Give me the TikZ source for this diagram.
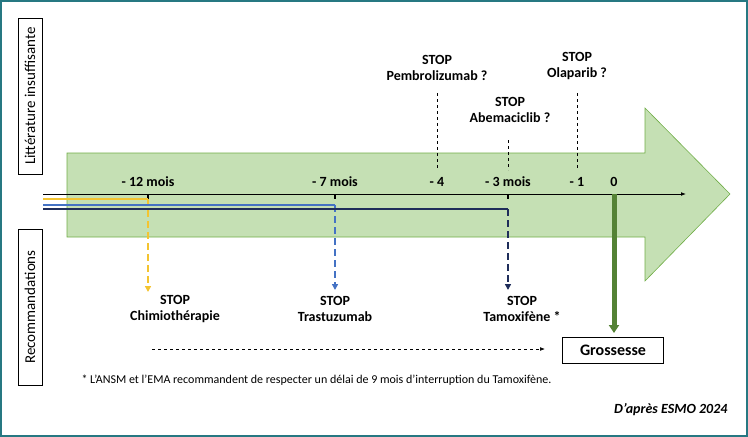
\documentclass[tikz,border=0pt]{standalone}
\usepackage{fontspec}
\setmainfont{Carlito}
\usetikzlibrary{arrows.meta}

\definecolor{frameteal}{RGB}{38,120,130}
\definecolor{arrowgreen}{RGB}{197,224,180}
\definecolor{arrowedge}{RGB}{112,173,71}
\definecolor{darkgreen}{RGB}{84,130,53}
\definecolor{chimioyellow}{RGB}{244,196,48}
\definecolor{trastblue}{RGB}{68,114,196}
\definecolor{tamonavy}{RGB}{31,45,90}

\tikzset{
  stop/.style={font=\bfseries\fontsize{14}{16}\selectfont, align=center},
  tick/.style={font=\bfseries\fontsize{14}{16}\selectfont},
  sidebox/.style={draw, line width=.8pt, minimum width=156pt, minimum height=24pt,
    rotate=90, font=\fontsize{15}{16}\selectfont},
}

\begin{document}
\begin{tikzpicture}[x=1pt,y=-1pt]
  \useasboundingbox (0,0) rectangle (748,437);
  \draw[frameteal, line width=2pt] (1,1) rectangle (747,436);

  % side boxes
  \node[sidebox] (litt) at (30,96) {Littérature insuffisante};
  \node[sidebox] (reco) at (30,307) {Recommandations};

  % big arrow
  \draw[arrowedge, fill=arrowgreen, line width=.6pt]
    (67,153) -- (645,153) -- (645,108) -- (730,194) -- (645,281) -- (645,237)
    -- (67,237) -- cycle;

  % timeline
  \coordinate (t0) at (43,194);
  \coordinate (tend) at (686,194);
  \coordinate (m12) at (148,194);
  \coordinate (m7) at (335,194);
  \coordinate (m3) at (508,194);
  \coordinate (zero) at (614,194);
  \draw[-{Latex[length=5pt]}, line width=.8pt] (t0) -- (tend);
  \foreach \p in {m12,m7,m3}
    \draw[line width=1.5pt] (\p) -- ++(0,5);

  \node[tick] (l12) at (148,182) {- 12 mois};
  \node[tick] (l7) at (335,182) {- 7 mois};
  \node[tick] (l4) at (437,182) {- 4};
  \node[tick] (l3) at (508,182) {- 3 mois};
  \node[tick] (l1) at (577,182) {- 1};
  \node[tick] (l0) at (614,182) {0};

  % treatment lines
  \draw[chimioyellow, line width=1.5pt] (43,199) -- (148,199);
  \draw[chimioyellow, line width=1.8pt, dash pattern=on 7pt off 4pt, -{Triangle[length=6pt,width=6pt]}]
    (148,199) -- (148,292);
  \draw[trastblue, line width=1.5pt] (43,205) -- (335,205);
  \draw[trastblue, line width=1.8pt, dash pattern=on 7pt off 4pt, -{Triangle[length=6pt,width=6pt]}]
    (335,205) -- (335,290);
  \draw[tamonavy, line width=1.5pt] (43,209) -- (508,209);
  \draw[tamonavy, line width=1.8pt, dash pattern=on 7pt off 4pt, -{Triangle[length=6pt,width=6pt]}]
    (508,209) -- (508,290);
  \draw[darkgreen, line width=5pt, -{Triangle[length=8pt,width=10pt]}] (zero) -- (614,333);

  % top STOP labels
  \node[stop] (pembro) at (437,68) {STOP\\Pembrolizumab ?};
  \node[stop] (abema) at (510,110) {STOP\\Abemaciclib ?};
  \node[stop] (olap) at (577,66) {STOP\\Olaparib ?};
  \draw[dashed, line width=.6pt] (437,93) -- (437,170);
  \draw[dashed, line width=.6pt] (508,140) -- (508,170);
  \draw[dashed, line width=.6pt] (577,93) -- (577,170);

  % bottom STOP labels
  \node[stop] (chimio) at (175,309) {STOP\\Chimiothérapie};
  \node[stop] (trast) at (335,309) {STOP\\Trastuzumab};
  \node[stop] (tamo) at (522,309) {STOP\\Tamoxifène *};

  % pregnancy
  \node[draw, line width=.8pt, minimum width=101pt, minimum height=26pt,
    font=\bfseries\fontsize{16}{18}\selectfont] (gross) at (613,350) {Grossesse};
  \draw[dashed, line width=.6pt, -{Latex[length=5pt]}] (152,349) -- (545,349);

  \node[anchor=west, font=\fontsize{12}{14}\selectfont] (note) at (78,380)
    {* L’ANSM et l’EMA recommandent de respecter un délai de 9 mois d’interruption du Tamoxifène.};
  \node[anchor=east, font=\bfseries\itshape\fontsize{14}{16}\selectfont] (src) at (731,410)
    {D’après ESMO 2024};
\end{tikzpicture}
\end{document}
